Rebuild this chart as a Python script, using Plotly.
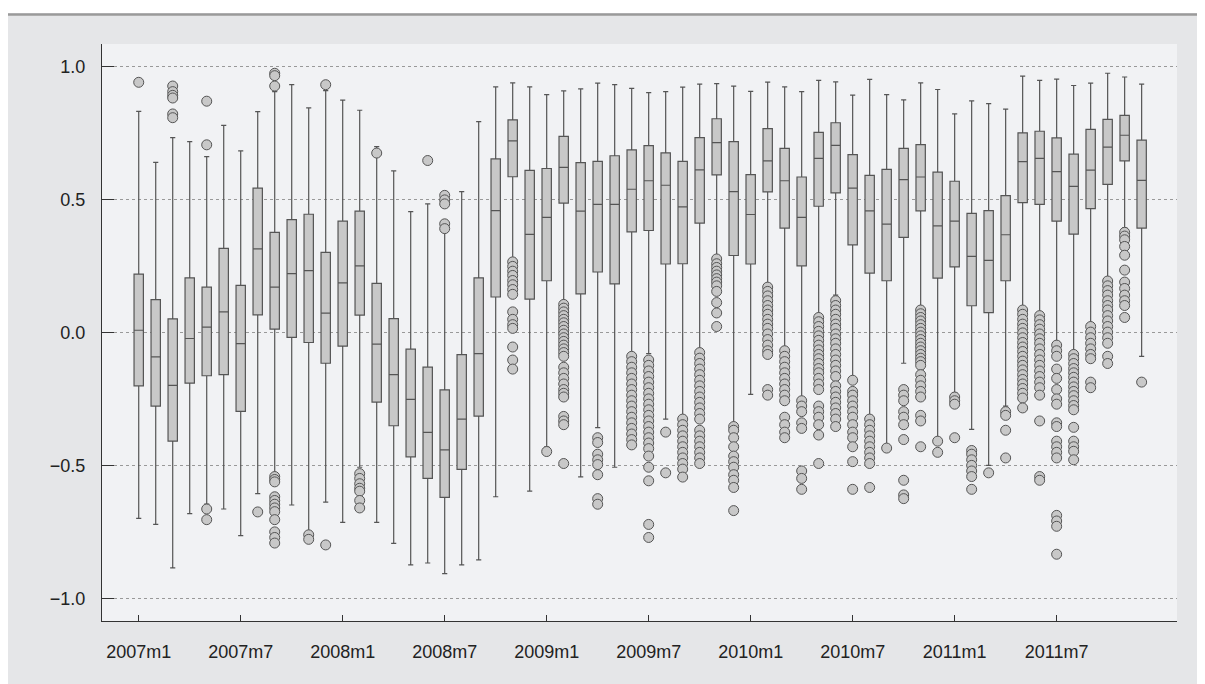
import plotly.graph_objects as go

months = [f"{y}m{m}" for y in range(2007, 2012) for m in range(1, 13)]

upper = [0.833, 0.641, 0.734, 0.719, 0.663, 0.780, 0.684, 0.832, 0.907, 0.933,
         0.846, 0.911, 0.875, 0.837, 0.700, 0.609, 0.456, 0.485, 0.378, 0.531,
         0.794, 0.925, 0.940, 0.925, 0.896, 0.910, 0.917, 0.939, 0.933, 0.919,
         0.903, 0.907, 0.924, 0.935, 0.937, 0.928, 0.908, 0.943, 0.925, 0.907,
         0.949, 0.944, 0.894, 0.953, 0.896, 0.876, 0.940, 0.915, 0.823, 0.872,
         0.862, 0.841, 0.965, 0.949, 0.954, 0.930, 0.939, 0.976, 0.962, 0.935]
q3 = [0.221, 0.125, 0.053, 0.207, 0.172, 0.318, 0.179, 0.544, 0.378, 0.426,
      0.446, 0.303, 0.420, 0.458, 0.186, 0.054, -0.061, -0.129, -0.214, -0.082,
      0.207, 0.654, 0.801, 0.611, 0.618, 0.739, 0.640, 0.645, 0.666, 0.688,
      0.704, 0.677, 0.645, 0.734, 0.805, 0.719, 0.595, 0.768, 0.694, 0.586,
      0.754, 0.790, 0.670, 0.592, 0.615, 0.694, 0.708, 0.604, 0.570, 0.449,
      0.460, 0.516, 0.752, 0.758, 0.733, 0.672, 0.765, 0.803, 0.818, 0.725]
median = [0.010, -0.090, -0.197, -0.021, 0.022, 0.079, -0.040, 0.316, 0.172, 0.223,
          0.234, 0.074, 0.188, 0.252, -0.042, -0.157, -0.250, -0.374, -0.440, -0.324,
          -0.078, 0.460, 0.722, 0.370, 0.434, 0.622, 0.458, 0.483, 0.483, 0.540,
          0.572, 0.555, 0.474, 0.613, 0.715, 0.531, 0.445, 0.647, 0.572, 0.434,
          0.656, 0.705, 0.544, 0.459, 0.409, 0.576, 0.586, 0.402, 0.420, 0.288,
          0.273, 0.369, 0.644, 0.656, 0.606, 0.551, 0.612, 0.698, 0.743, 0.573]
q1 = [-0.199, -0.275, -0.407, -0.189, -0.161, -0.157, -0.295, 0.068, 0.014, -0.017,
      -0.036, -0.114, -0.050, 0.067, -0.260, -0.349, -0.466, -0.547, -0.618, -0.513,
      -0.313, 0.135, 0.587, 0.127, 0.196, 0.488, 0.147, 0.229, 0.184, 0.380,
      0.385, 0.259, 0.260, 0.413, 0.594, 0.291, 0.259, 0.530, 0.394, 0.252,
      0.476, 0.526, 0.331, 0.225, 0.196, 0.359, 0.459, 0.206, 0.248, 0.102,
      0.076, 0.196, 0.490, 0.483, 0.420, 0.371, 0.467, 0.558, 0.647, 0.394]
lower = [-0.697, -0.720, -0.883, -0.679, -0.644, -0.662, -0.762, -0.604, -0.526, -0.647,
         -0.748, -0.636, -0.712, -0.505, -0.712, -0.791, -0.872, -0.865, -0.905, -0.872,
         -0.853, -0.616, 0.281, -0.595, -0.428, 0.121, -0.541, -0.356, -0.505, -0.074,
         -0.078, -0.324, -0.310, -0.060, 0.288, -0.338, -0.231, 0.184, -0.053, -0.245,
         0.072, 0.142, -0.164, -0.310, -0.421, -0.114, 0.100, -0.401, -0.224, -0.363,
         -0.498, -0.275, 0.093, 0.075, -0.032, -0.067, 0.038, 0.204, 0.396, -0.088]

outliers = [
    [0.942],
    [],
    [0.928, 0.907, 0.893, 0.883, 0.823, 0.809],
    [],
    [0.871, 0.707, -0.662, -0.702],
    [],
    [],
    [-0.673],
    [0.976, 0.967, 0.928, -0.540, -0.551, -0.560, -0.616, -0.630, -0.644, -0.658,
     -0.672, -0.702, -0.748, -0.769, -0.790],
    [],
    [-0.759, -0.776],
    [0.933, -0.797],
    [],
    [-0.529, -0.547, -0.567, -0.584, -0.595, -0.630, -0.658],
    [0.676],
    [],
    [],
    [0.648],
    [0.517, 0.500, 0.485, 0.410, 0.392],
    [],
    [],
    [],
    [0.267, 0.250, 0.232, 0.216, 0.197, 0.181, 0.163, 0.145, 0.079, 0.051, 0.031,
     0.017, -0.053, -0.102, -0.136],
    [],
    [-0.446],
    [0.107, 0.093, 0.079, 0.065, 0.051, 0.038, 0.024, 0.010, -0.004, -0.018, -0.032,
     -0.046, -0.060, -0.074, -0.088, -0.129, -0.150, -0.171, -0.192, -0.213, -0.227,
     -0.241, -0.314, -0.331, -0.345, -0.491],
    [],
    [-0.394, -0.412, -0.456, -0.477, -0.495, -0.533, -0.623, -0.644],
    [],
    [-0.088, -0.108, -0.129, -0.150, -0.171, -0.192, -0.213, -0.234, -0.255, -0.275,
     -0.296, -0.317, -0.338, -0.359, -0.380, -0.401, -0.421],
    [-0.102, -0.122, -0.143, -0.164, -0.185, -0.206, -0.227, -0.248, -0.268, -0.289,
     -0.310, -0.331, -0.352, -0.373, -0.394, -0.414, -0.435, -0.463, -0.505, -0.556,
     -0.720, -0.769],
    [-0.373, -0.526],
    [-0.324, -0.345, -0.366, -0.387, -0.407, -0.428, -0.449, -0.470, -0.491, -0.512,
     -0.542],
    [-0.074, -0.095, -0.115, -0.136, -0.157, -0.178, -0.199, -0.220, -0.241, -0.261,
     -0.282, -0.303, -0.324, -0.366, -0.387, -0.407, -0.428, -0.449, -0.470, -0.491],
    [0.278, 0.260, 0.246, 0.232, 0.218, 0.204, 0.191, 0.177, 0.156, 0.114, 0.075, 0.024],
    [-0.352, -0.366, -0.394, -0.428, -0.463, -0.484, -0.505, -0.533, -0.554, -0.581,
     -0.668],
    [],
    [0.172, 0.156, 0.139, 0.121, 0.103, 0.086, 0.070, 0.051, 0.033, 0.017, -0.004,
     -0.025, -0.046, -0.067, -0.081, -0.213, -0.234],
    [-0.067, -0.088, -0.108, -0.129, -0.150, -0.171, -0.192, -0.213, -0.234, -0.255,
     -0.317, -0.345, -0.373, -0.394],
    [-0.255, -0.275, -0.296, -0.338, -0.359, -0.519, -0.547, -0.588],
    [0.058, 0.042, 0.024, 0.006, -0.011, -0.028, -0.046, -0.064, -0.081, -0.097,
     -0.115, -0.134, -0.150, -0.171, -0.192, -0.213, -0.275, -0.296, -0.317, -0.345,
     -0.384, -0.491],
    [0.121, 0.103, 0.086, 0.070, 0.051, 0.033, 0.017, -0.004, -0.022, -0.039, -0.060,
     -0.081, -0.102, -0.122, -0.143, -0.164, -0.199, -0.220, -0.241, -0.261, -0.282,
     -0.303, -0.324, -0.352],
    [-0.178, -0.220, -0.234, -0.255, -0.275, -0.296, -0.317, -0.345, -0.373, -0.394,
     -0.428, -0.484, -0.588],
    [-0.324, -0.345, -0.366, -0.387, -0.407, -0.428, -0.449, -0.470, -0.491, -0.581],
    [-0.433],
    [-0.213, -0.234, -0.255, -0.296, -0.317, -0.345, -0.401, -0.554, -0.609, -0.623],
    [0.086, 0.072, 0.058, 0.045, 0.031, 0.017, 0.003, -0.011, -0.025, -0.039, -0.053,
     -0.067, -0.081, -0.095, -0.108, -0.122, -0.157, -0.178, -0.199, -0.220, -0.241,
     -0.310, -0.331, -0.428],
    [-0.407, -0.449],
    [-0.241, -0.255, -0.268, -0.394],
    [-0.442, -0.456, -0.477, -0.498, -0.519, -0.540, -0.588],
    [-0.526],
    [-0.296, -0.310, -0.366, -0.470],
    [0.086, 0.070, 0.051, 0.033, 0.017, 0.000, -0.018, -0.036, -0.053, -0.070, -0.088,
     -0.106, -0.122, -0.139, -0.157, -0.175, -0.192, -0.209, -0.227, -0.245, -0.282],
    [0.065, 0.049, 0.031, 0.014, -0.004, -0.022, -0.039, -0.060, -0.081, -0.102,
     -0.122, -0.143, -0.164, -0.185, -0.206, -0.234, -0.331, -0.540, -0.554],
    [-0.046, -0.067, -0.088, -0.136, -0.171, -0.213, -0.248, -0.268, -0.338, -0.352,
     -0.407, -0.428, -0.449, -0.470, -0.686, -0.707, -0.727, -0.832],
    [-0.081, -0.097, -0.115, -0.134, -0.150, -0.167, -0.185, -0.203, -0.220, -0.236,
     -0.255, -0.273, -0.289, -0.355, -0.407, -0.428, -0.445, -0.477],
    [0.024, 0.003, -0.018, -0.039, -0.060, -0.081, -0.097, -0.185, -0.206],
    [0.195, 0.177, 0.159, 0.142, 0.121, 0.103, 0.086, 0.065, 0.045, 0.024, 0.003,
     -0.018, -0.039, -0.088, -0.115],
    [0.378, 0.364, 0.350, 0.325, 0.292, 0.236, 0.191, 0.167, 0.142, 0.121, 0.103, 0.058],
    [-0.185],
]

tick_months = ["2007m1", "2007m7", "2008m1", "2008m7", "2009m1",
               "2009m7", "2010m1", "2010m7", "2011m1", "2011m7"]
y_ticks = [-1.0, -0.5, 0.0, 0.5, 1.0]
y_ticktext = ["\u22121.0", "\u22120.5", "0.0", "0.5", "1.0"]

pos = list(range(len(months)))
ox, oy = [], []
for i, vals in enumerate(outliers):
    for v in vals:
        ox.append(i)
        oy.append(v)

BOX_FILL = "#c8c8c8"
EDGE = "#555555"

fig = go.Figure()
fig.add_trace(go.Box(
    x=pos, q1=q1, median=median, q3=q3, lowerfence=lower, upperfence=upper,
    boxpoints=False, fillcolor=BOX_FILL, line=dict(color=EDGE, width=1.2),
    width=0.55, whiskerwidth=0.55, showlegend=False, hoverinfo="skip"))
fig.add_trace(go.Scatter(
    x=ox, y=oy, mode="markers", showlegend=False, hoverinfo="skip",
    marker=dict(symbol="circle", size=10, color=BOX_FILL,
                line=dict(color=EDGE, width=1))))

W, H = 1205, 684
ml, mr, mt, mb = 94, 36, 36, 71
pw, ph = W - ml - mr, H - mt - mb


def px_x(p):
    return (p - ml) / pw


def px_y(p):
    return (H - mb - p) / ph


fig.update_layout(
    width=W, height=H,
    margin=dict(l=ml, r=mr, t=mt, b=mb, pad=0),
    paper_bgcolor="#e5e6e8", plot_bgcolor="#f1f2f4",
    font=dict(family="Liberation Sans, Arial, sans-serif", size=18, color="#222222"),
    showlegend=False,
    shapes=[
        dict(type="rect", xref="paper", yref="paper",
             x0=px_x(0), x1=px_x(W), y0=px_y(5.2), y1=px_y(0),
             fillcolor="white", line=dict(width=0), layer="above"),
        dict(type="line", xref="paper", yref="paper",
             x0=px_x(0), x1=px_x(W), y0=px_y(6.5), y1=px_y(6.5),
             line=dict(color="#9a9a9a", width=2.5), layer="above"),
    ],
)
fig.update_xaxes(
    range=[-2.16, 61.08],
    tickvals=[months.index(m) for m in tick_months], ticktext=tick_months,
    ticks="inside", ticklen=6, tickcolor="#333333", tickwidth=1.2,
    showline=True, linecolor="#333333", linewidth=1.3,
    showgrid=False, zeroline=False, ticklabelstandoff=14,
)
fig.update_yaxes(
    range=[-1.083, 1.086],
    tickvals=y_ticks, ticktext=y_ticktext,
    ticks="inside", ticklen=12, tickcolor="#333333", tickwidth=1.2,
    showline=True, linecolor="#333333", linewidth=1.3,
    showgrid=True, gridcolor="#999999", gridwidth=1, griddash="3px,3px",
    zeroline=False, ticklabelstandoff=12,
)

fig.write_html("out.html")
